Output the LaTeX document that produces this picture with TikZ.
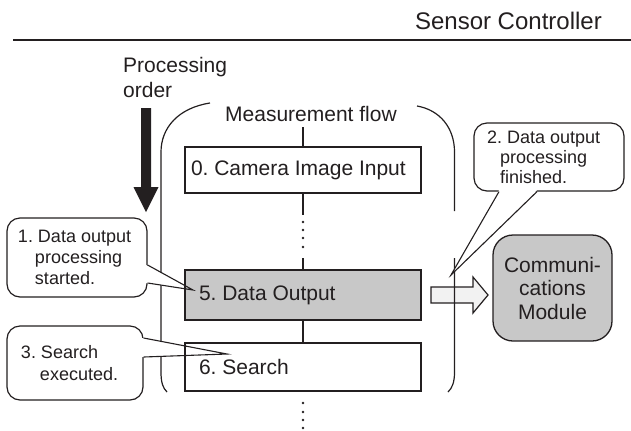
\documentclass[tikz,border=0pt]{standalone}
\usepackage{fontspec}
\setmainfont{Liberation Sans}
\usetikzlibrary{positioning,arrows.meta,calc}
\definecolor{ink}{HTML}{231F20}
\definecolor{boxgray}{HTML}{C8C8C8}
\definecolor{arrowfill}{HTML}{F2F2F2}

\begin{document}
\frenchspacing
\begin{tikzpicture}[
  x=1bp, y=-1bp,
  every node/.style={text=ink},
  txt/.style={font=\fontsize{21bp}{25bp}\selectfont, inner sep=0pt},
  procbox/.style={draw=ink, line width=1.3bp, fill=white, minimum height=48bp, text width=208bp, inner xsep=14bp, inner ysep=0pt, align=flush left, font=\fontsize{21bp}{25bp}\selectfont},
  module/.style={draw=ink, line width=1.3bp, fill=boxgray, rounded corners=20bp, minimum width=119bp, minimum height=106bp, align=center, font=\fontsize{21bp}{23.5bp}\selectfont},
  callout/.style={draw=ink, line width=1.2bp, fill=white, rounded corners=13bp, align=flush left, inner ysep=0pt, font=\fontsize{18bp}{21bp}\selectfont},
  flow/.style={draw=ink, line width=1.2bp},
  spine/.style={draw=ink, line width=2.6bp},
  tipline/.style={draw=ink, line width=1.1bp, line join=miter},
  hollow/.style={draw=ink, line width=1.2bp, fill=arrowfill, line join=miter}
]
  \useasboundingbox (0,0) rectangle (631,430);

  % Kopfzeile
  \node[font=\fontsize{24bp}{28bp}\selectfont, anchor=base east, inner sep=0pt] (title) at (602,29) {Sensor Controller};
  \draw[ink, line width=1.3bp] (13,40) -- (631,40);

  % Bearbeitungsreihenfolge
  \node[txt, anchor=north west, align=left] (porder) at (123,57) {Processing\\order};
  \fill[ink] (141,108) -- (151,108) -- (151,187) -- (158.5,187) -- (146,212) -- (133.5,187) -- (141,187) -- cycle;

  % Messablauf-Klammer
  \node[txt, anchor=base west] (mflow) at (225,121) {Measurement flow};
  \draw[flow] (210,103) .. controls (178,108) and (161,128) .. (161,152) -- (161,372) .. controls (161,383) and (163,388) .. (167,392);
  \draw[flow] (417,106) .. controls (440,110) and (454.5,128) .. (454.5,152) -- (454.5,211);

  % Hohlpfeil zum Kommunikationsmodul
  \coordinate (ha) at (431,295);
  \draw[hollow] (ha) ++(0,-8) -- ++(42,0) -- ++(0,-10) -- ++(15,18) -- ++(-15,18) -- ++(0,-10) -- ++(-42,0) -- cycle;
  \draw[flow] (454.5,258) -- (454.5,372) .. controls (454.5,383) and (452,388) .. (448,392);

  \node[module] (comm) at (552.5,288) {Communi-\\cations\\Module};

  % Mittellinie
  \coordinate (top) at (303,127);
  \coordinate (gapA) at (303,215);
  \coordinate (gapB) at (303,258);
  \draw[spine] (top) -- (303,147);
  \draw[spine] (303,193) -- (gapA);
  \draw[spine] (gapB) -- (303,270);
  \draw[spine] (303,320) -- (303,343);
  \foreach \y in {222,230,238,247,403,412,420,428}
    \fill[ink] (303,\y) circle (1.3bp);

  % Sprechblasen
  \node[callout, text width=118bp, inner xsep=11bp, minimum height=79bp] (note1) at (77,257.5) {1. Data output\\\hspace*{17bp}processing\\\hspace*{17bp}started.};
  \node[callout, text width=124bp, inner xsep=13bp, minimum height=68bp, font=\fontsize{18bp}{20bp}\selectfont] (note2) at (549,157) {2. Data output\\\hspace*{13bp}processing\\\hspace*{13bp}finished.};
  \node[callout, text width=108bp, inner xsep=14bp, minimum height=74bp, font=\fontsize{18bp}{22bp}\selectfont] (note3) at (75,363) {3. Search\\\hspace*{19bp}executed.};

  \coordinate (tip1) at (193,290);
  \coordinate (tip2) at (451,275);
  \coordinate (tip3) at (227,354);
  \fill[white] ($(note1.east)+(-1.5,7.5)$) -- (tip1) -- ($(note1.east)+(-1.5,25.5)$) -- cycle;
  \fill[white] ($(note2.south)+(-50,-1.5)$) -- (tip2) -- ($(note2.south)+(-12,-1.5)$) -- cycle;
  \fill[white] ($(note3.east)+(-1.5,-25)$) -- (tip3) -- ($(note3.east)+(-1.5,-6)$) -- cycle;

  % Verarbeitungsschritte
  \node[procbox, inner xsep=6bp, text width=224bp, minimum height=46bp] (box0) at (303,170) {0. Camera Image Input};
  \node[procbox, fill=boxgray, minimum height=50bp] (box5) at (303,295) {5. Data Output};
  \node[procbox] (box6) at (303,367) {6. Search};

  \draw[tipline] ($(note1.east)+(0,7.5)$) -- (tip1) -- ($(note1.east)+(0,25.5)$);
  \draw[tipline] ($(note2.south)+(-50,0)$) -- (tip2) -- ($(note2.south)+(-12,0)$);
  \draw[tipline] ($(note3.east)+(0,-25)$) -- (tip3) -- ($(note3.east)+(0,-6)$);
\end{tikzpicture}
\end{document}
